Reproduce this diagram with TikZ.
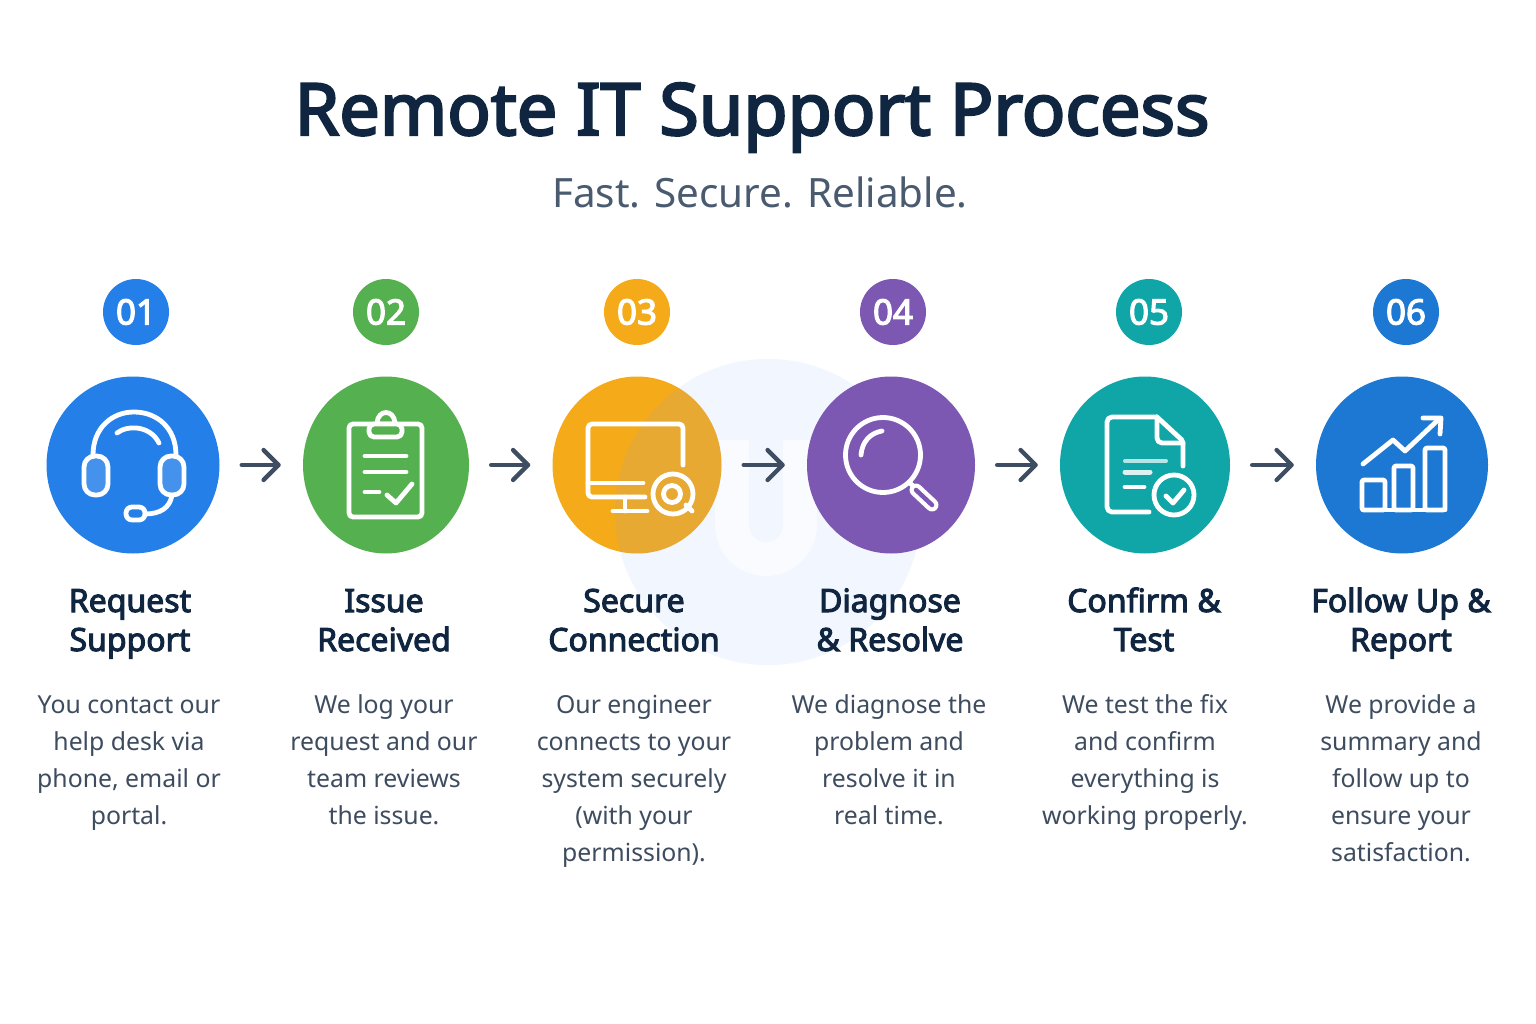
\documentclass[tikz,border=0pt]{standalone}
\usepackage{fontspec}
\setmainfont{Noto Sans}[BoldFont=Noto Sans, BoldFeatures={FakeBold=3.2}]
\usetikzlibrary{arrows.meta, shapes.geometric}

\definecolor{titlecol}{HTML}{0F2540}
\definecolor{subcol}{HTML}{4A5B70}
\definecolor{bodycol}{HTML}{3E4C60}
\definecolor{arrowcol}{HTML}{3F4D63}
\definecolor{washcol}{HTML}{F2F6FE}
\definecolor{ublue}{HTML}{2480E8}
\definecolor{ugreen}{HTML}{55B04F}
\definecolor{uorange}{HTML}{F5AB19}
\definecolor{upurple}{HTML}{7C58B2}
\definecolor{uteal}{HTML}{10A6A8}
\definecolor{unavy}{HTML}{1C78D2}

\tikzset{
  badge/.style={circle, inner sep=0pt, minimum size=66pt, text=white, font=\fontsize{35}{35}\selectfont\bfseries},
  disc/.style={ellipse, inner sep=0pt, minimum height=177pt},
  flow/.style={arrowcol, line width=4.4pt, line cap=round, shorten <=22pt, shorten >=22pt,
    -{Straight Barb[length=15pt, width=30pt, line width=4.4pt, round]}},
  head/.style={align=center, inner sep=0pt, anchor=base, text=titlecol, font=\fontsize{32}{39}\selectfont\bfseries},
  desc/.style={align=center, inner sep=0pt, anchor=base, text=bodycol, font=\fontsize{24.8}{37}\selectfont},
  icon/.style={white, line width=4.8pt, line cap=round, line join=round},
}

\begin{document}
\begin{tikzpicture}[x=1pt, y=-1pt]

\fill[white] (0,0) rectangle (1536,1024);
\useasboundingbox (0,0) rectangle (1536,1024);

% watermark
\fill[washcol] (768,512) circle (153);
\draw[line width=34pt, color=white!60!washcol] (732,440) -- (732,525) arc (180:0:34) -- (800,440);

\node[anchor=base, text=titlecol, font=\fontsize{72}{72}\selectfont\bfseries] (title) at (752,135) {Remote IT Support Process};
\node[anchor=base, text=subcol, font=\fontsize{40.4}{42}\selectfont] (subtitle) at (760,208) {Fast. Secure. Reliable.};

\foreach \n/\bx/\cx/\d/\col/\bcol in {
1/136/133/173/ublue/ublue,
2/386/386/166/ugreen/ugreen,
3/637/637/169/uorange/uorange,
4/893/891/168/upurple/upurple,
5/1149/1145/170/uteal/uteal,
6/1406/1402/172/unavy/unavy} {
\node[badge, fill=\bcol] (b\n) at (\bx,312) {0\n};
\node[disc, fill=\col, minimum width=\d pt] (c\n) at (\cx,465) {};
}

% watermark showing through the orange disc
\begin{scope}
\clip (c3.center) ellipse (84.5 and 88.5);
\fill[color={rgb,255:red,159;green,160;blue,200}, opacity=0.15] (768,512) circle (153);
\end{scope}

\foreach \a/\b in {1/2, 2/3, 3/4, 4/5, 5/6} {
\draw[flow] (c\a) -- (c\b);
}

% headset
\draw[icon] (93,455) .. controls (93,428) and (112,412) .. (134,412) .. controls (157,412) and (176,428) .. (176,455);
\draw[icon] (117,433) .. controls (127,425) and (150,425) .. (159,443);
\fill[white, opacity=0.15, rounded corners=11pt] (84,456) rectangle (108,495);
\fill[white, opacity=0.15, rounded corners=11pt] (160,456) rectangle (184,495);
\draw[icon, rounded corners=11pt] (84,456) rectangle (108,495);
\draw[icon, rounded corners=11pt] (160,456) rectangle (184,495);
\draw[icon] (172,495) .. controls (170,508) and (160,514) .. (145,514);
\draw[icon, rounded corners=6pt] (126,507) rectangle (145,520);

% clipboard
\draw[icon, rounded corners=4pt] (349,424) rectangle (422,517);
\draw[icon, fill=ugreen, rounded corners=5pt] (369,424) rectangle (402,437);
\draw[icon] (377,423) .. controls (378,409) and (394,409) .. (395,423);
\draw[icon] (365,456) -- (406,456);
\draw[icon] (365,472) -- (406,472);
\draw[icon] (365,492) -- (379,492);
\draw[icon] (387,495) -- (396,503) -- (412,484);

% monitor
\draw[icon, rounded corners=4pt] (683,465) -- (683,424) -- (588,424) -- (588,497) -- (645,497);
\draw[icon] (588,483) -- (643,483);
\draw[icon] (625,497) -- (625,511);
\draw[icon] (613,511) -- (647,511);
\draw[icon] (673,494) circle (20);
\draw[icon] (672,494) circle (8.5);
\draw[icon] (686,505) -- (692,511);

% magnifier
\draw[icon] (883,455) circle (37.5);
\draw[icon] (861,455) .. controls (862,442) and (870,433) .. (882,431);
\draw[white, line width=13pt, line cap=round] (916,490) -- (932,505);
\draw[upurple, line width=4.5pt, line cap=round] (916,490) -- (932,505);
\draw[icon] (909,482) -- (913,486);

% document
\draw[icon, rounded corners=5pt] (1149,512) -- (1107,512) -- (1107,417) -- (1157,417);
\draw[icon, rounded corners=2pt] (1157,417) -- (1183,441) -- (1183,466);
\draw[icon, rounded corners=5pt] (1157,417) -- (1157,443) -- (1183,443);
\draw[icon, white!70!uteal, line width=4pt] (1125,461) -- (1166,461);
\draw[icon, white!85!uteal, line width=5pt] (1125,472) -- (1150,472);
\draw[icon] (1125,487) -- (1144,487);
\draw[icon] (1174,495) circle (20);
\draw[icon] (1166,496) -- (1173,503) -- (1184,490);

% chart
\draw[icon] (1363,510) -- (1445,510);
\draw[icon, rounded corners=2pt] (1362,480) rectangle (1385,510);
\draw[icon, rounded corners=2pt] (1394,466) rectangle (1413,510);
\draw[icon, rounded corners=2pt] (1425,448) rectangle (1445,510);
\draw[icon] (1363,464) -- (1393,440) -- (1405,451) -- (1438,420);
\draw[icon] (1423,418) -- (1441,418) -- (1440,434);

% step titles
\node[head] (h1) at (130,651) {Request\\Support};
\node[head] (h2) at (384,651) {Issue\\Received};
\node[head] (h3) at (634,651) {Secure\\Connection};
\node[head] (h4) at (890,651) {Diagnose\\\& Resolve};
\node[head] (h5) at (1144,651) {Confirm \&\\Test};
\node[head] (h6) at (1401,651) {Follow Up \&\\Report};

% step texts
\node[desc] (d1) at (129,824) {You contact our\\help desk via\\phone, email or\\portal.};
\node[desc] (d2) at (384,824) {We log your\\request and our\\team reviews\\the issue.};
\node[desc] (d3) at (634,861) {Our engineer\\connects to your\\system securely\\(with your\\permission).};
\node[desc] (d4) at (889,824) {We diagnose the\\problem and\\resolve it in\\real time.};
\node[desc] (d5) at (1145,824) {We test the fix\\and confirm\\everything is\\working properly.};
\node[desc] (d6) at (1401,861) {We provide a\\summary and\\follow up to\\ensure your\\satisfaction.};

\end{tikzpicture}
\end{document}
